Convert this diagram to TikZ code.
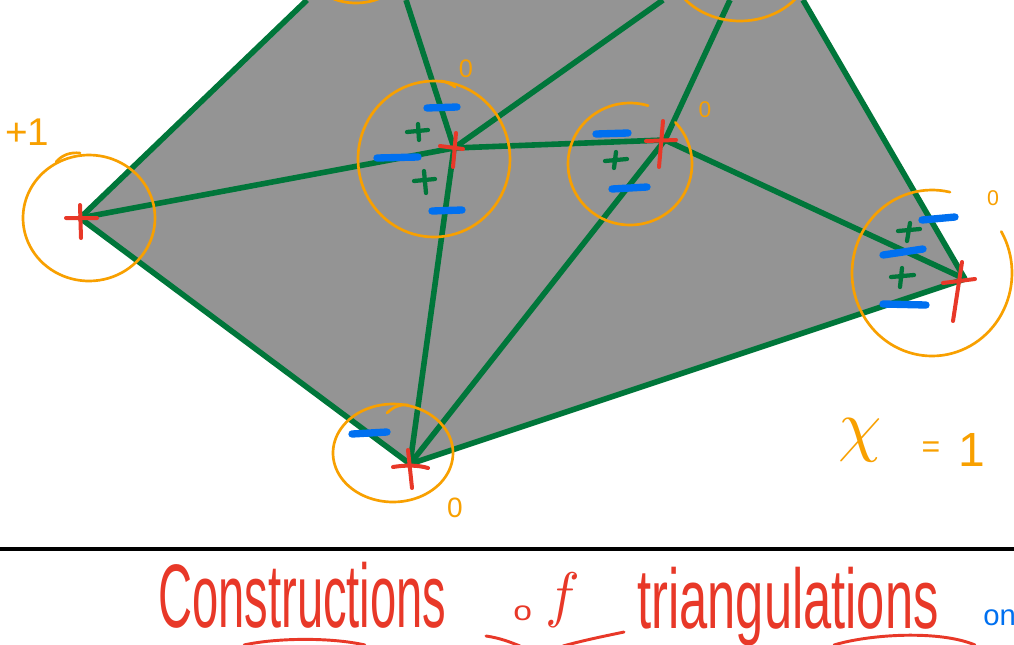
\documentclass[tikz,border=0pt]{standalone}
\usepackage{fontspec}
\setmainfont{Liberation Sans}
\usepackage{graphicx}
\definecolor{tgray}{RGB}{148,148,148}
\definecolor{tgreen}{RGB}{0,118,58}
\definecolor{torange}{RGB}{248,160,0}
\definecolor{tred}{RGB}{232,56,40}
\definecolor{tblue}{RGB}{0,112,240}
\begin{document}
\begin{tikzpicture}[x=0.75pt,y=-0.75pt,
  edge/.style={draw=tgreen, line width=4.2pt},
  ring/.style={draw=torange, line width=2pt, line cap=round},
  vcross/.style={draw=tred, line width=3pt, line cap=round},
  gplus/.style={draw=tgreen, line width=3.2pt, line cap=round},
  bdash/.style={draw=tblue, line width=5.5pt, line cap=round},
  lab/.style={text=torange, inner sep=0pt},
  title/.style={text=tred, inner sep=0pt, anchor=base west},
  uline/.style={draw=tred, line width=2.2pt, line cap=round}]
\useasboundingbox (0,0) rectangle (1014,644);
\clip (0,0) rectangle (1014,644);
\fill[white] (0,0) rectangle (1014,644);
% vertices
\coordinate (A) at (80,218);
\coordinate (B) at (454,148);
\coordinate (C) at (665,140);
\coordinate (D) at (965,279);
\coordinate (E) at (410,464);
\coordinate (P1) at (307,0);
\coordinate (P2) at (406,0);
\coordinate (P3) at (663,0);
\coordinate (P4) at (730,0);
\coordinate (P5) at (803,0);
% face
\fill[tgray] (A) -- (P1) -- (P5) -- (D) -- (E) -- cycle;
% edges
\draw[edge] (A) -- (P1);
\draw[edge] (A) -- (B);
\draw[edge] (A) -- (E);
\draw[edge] (B) -- (P2);
\draw[edge] (B) -- (P3);
\draw[edge] (B) -- (C);
\draw[edge] (B) -- (E);
\draw[edge] (C) -- (P4);
\draw[edge] (C) -- (D);
\draw[edge] (C) -- (E);
\draw[edge] (D) -- (P5);
\draw[edge] (D) -- (E);
% orange rings
\draw[ring] plot[domain=0:360, samples=90] ({89+66*cos(\x)},{218+63*sin(\x)});
\draw[ring] (56,162) .. controls (62,155) and (70,152) .. (80,153);
\draw[ring] plot[domain=0:360, samples=90] ({434+76*cos(\x)},{159+78*sin(\x)});
\draw[ring] (441,81) .. controls (447,82) and (451,84) .. (455,87);
\draw[ring] plot[domain=-403:-73, samples=90] ({630+62*cos(\x)},{164+61*sin(\x)});
\draw[ring] plot[domain=-390:-77, samples=90] ({932+80*cos(\x)},{273+83*sin(\x)});
\draw[ring] plot[domain=0:360, samples=90] ({393+60*cos(\x)},{453+49*sin(\x)});
\draw[ring] (387,413) .. controls (393,407) and (400,404) .. (408,405);
\draw[ring] plot[domain=0:360, samples=90] ({356+62*cos(\x)},{-57+60*sin(\x)});
\draw[ring] plot[domain=0:360, samples=90] ({740+72*cos(\x)},{-40+61*sin(\x)});
% red vertex crosses
\draw[vcross] (66,218) -- (97,218) (80,205) -- (81,238);
\draw[vcross] (440,146) -- (463,149) (456,133) -- (453,167);
\draw[vcross] (646,141) -- (676,140) (663,121) -- (659,167);
\draw[vcross] (943,283) -- (975,279) (962,262) -- (953,321);
\draw[vcross] (393,467) .. controls (405,465) and (418,465) .. (428,468) (408,450) -- (412,488);
% green pluses
\draw[gplus] (407,132) -- (428,130) (418,124) -- (419,140);
\draw[gplus] (414,181) -- (435,179) (424,171) -- (426,193);
\draw[gplus] (605,161) -- (627,159) (616,152) -- (614,168);
\draw[gplus] (898,231) -- (920,229) (910,223) -- (907,241);
\draw[gplus] (891,277) -- (914,275) (902,268) -- (900,287);
% blue dashes
\draw[bdash] (427,108) -- (457,107);
\draw[bdash] (377,158) -- (418,157);
\draw[bdash] (432,211) -- (462,210);
\draw[bdash] (596,134) -- (628,133);
\draw[bdash] (612,189) -- (647,187);
\draw[bdash] (922,220) -- (955,217);
\draw[bdash] (883,255) -- (923,249);
\draw[bdash] (883,304) -- (926,305);
\draw[bdash] (352,434) -- (387,432);
% orange labels
\node[lab, anchor=base west] (l1) at (5,145) {\fontsize{29}{29}\selectfont +1};
\node[lab] (lb) at (466,69) {\fontsize{19}{19}\selectfont 0};
\node[lab] (lc) at (705,110) {\fontsize{17}{17}\selectfont 0};
\node[lab] (ld) at (993,198) {\fontsize{16}{16}\selectfont 0};
\node[lab] (le) at (455,508) {\fontsize{21}{21}\selectfont 0};
\node[lab] (chi) at (860,440) {\scalebox{5.2}{$\chi$}};
\node[lab] (eq) at (931,450) {\fontsize{24}{24}\selectfont =};
\node[lab] (one) at (972,450) {\fontsize{36}{36}\selectfont 1};
% separator
\draw[line width=2.5pt] (0,549) -- (1014,549);
% title
\node[title] (t1) at (158,627) {\resizebox{216pt}{49pt}{Constructions}};
\node[title] (t2a) at (513,620) {\resizebox{14pt}{11pt}{o}};
\node[text=tred, inner sep=0pt] (t2b) at (563,600) {\resizebox*{26pt}{41pt}{$f$}};
\node[title] (t3) at (637,628) {\resizebox{226pt}{46pt}{triangulations}};
\node[anchor=base west, inner sep=0pt, text=tblue] (t4) at (983,625) {\fontsize{22}{22}\selectfont on};
\draw[uline] (244,645) .. controls (275,638) and (330,637) .. (365,645);
\draw[uline] (486,636) .. controls (500,638) and (510,642) .. (520,646);
\draw[uline] (563,646) .. controls (585,640) and (605,636) .. (624,632);
\draw[uline] (834,645) .. controls (870,634) and (940,630) .. (975,645);
\end{tikzpicture}
\end{document}
